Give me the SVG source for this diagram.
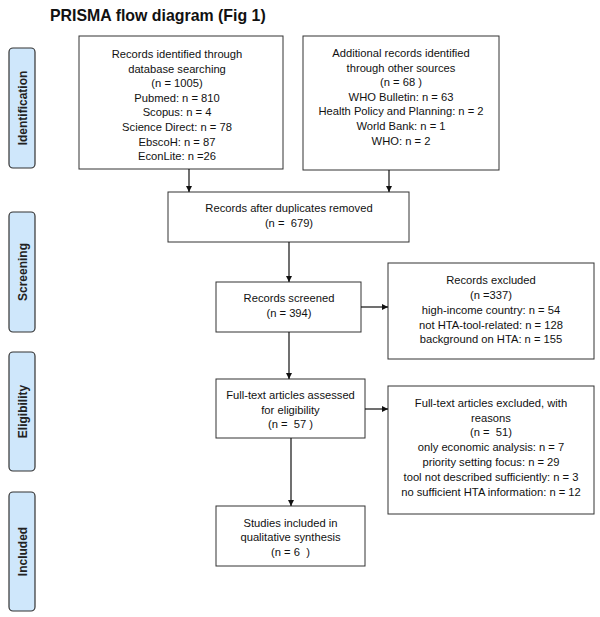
<svg xmlns="http://www.w3.org/2000/svg" width="600" height="617" viewBox="0 0 600 617">
<defs>
<marker id="ah" viewBox="0 0 10 10" refX="10" refY="5" markerWidth="6" markerHeight="6" markerUnits="userSpaceOnUse" orient="auto">
<path d="M0,0 L10,5 L0,10 z" fill="#111"/>
</marker>
</defs>
<style>
.box{fill:#fff;stroke:#333;stroke-width:1}
.stage{fill:#cfe7fb;stroke:#333;stroke-width:1.2}
.t{font-family:"Liberation Sans",Arial,sans-serif;font-size:11.2px;fill:#111;text-anchor:middle;white-space:pre}
.s{font-family:"Liberation Sans",Arial,sans-serif;font-size:12px;font-weight:bold;fill:#222;text-anchor:middle}
.title{font-family:"Liberation Sans",Arial,sans-serif;font-size:15.9px;font-weight:bold;fill:#111}
.c{stroke:#111;stroke-width:1.2;fill:none;marker-end:url(#ah)}
</style>
<rect width="600" height="617" fill="#fff"/>
<text class="title" x="50" y="20.5">PRISMA flow diagram (Fig 1)</text>

<g id="stage-identification"><rect class="stage" x="9" y="48" width="26" height="120" rx="4"/><text class="s" transform="translate(26.5,108) rotate(-90)">Identification</text></g>
<g id="stage-screening"><rect class="stage" x="9" y="212" width="26" height="120" rx="4"/><text class="s" transform="translate(26.5,272) rotate(-90)">Screening</text></g>
<g id="stage-eligibility"><rect class="stage" x="9" y="352" width="26" height="119" rx="4"/><text class="s" transform="translate(26.5,411.5) rotate(-90)">Eligibility</text></g>
<g id="stage-included"><rect class="stage" x="9" y="492" width="26" height="119" rx="4"/><text class="s" transform="translate(26.5,551.5) rotate(-90)">Included</text></g>

<g id="n-database">
<rect class="box" x="79" y="36" width="204" height="133"/>
<text class="t" x="177" y="58">Records identified through</text>
<text class="t" x="177" y="72.6">database searching</text>
<text class="t" x="177" y="87.2">(n = 1005)</text>
<text class="t" x="177" y="101.8">Pubmed: n = 810</text>
<text class="t" x="177" y="116.4">Scopus: n = 4</text>
<text class="t" x="177" y="131">Science Direct: n = 78</text>
<text class="t" x="177" y="145.6">EbscoH: n = 87</text>
<text class="t" x="177" y="160.2">EconLite: n =26</text>
</g>

<g id="n-other">
<rect class="box" x="303" y="36" width="196" height="134"/>
<text class="t" x="401" y="57">Additional records identified</text>
<text class="t" x="401" y="71.6">through other sources</text>
<text class="t" x="401" y="86.2">(n = 68 )</text>
<text class="t" x="401" y="100.8">WHO Bulletin: n = 63</text>
<text class="t" x="401" y="115.4">Health Policy and Planning: n = 2</text>
<text class="t" x="401" y="130">World Bank: n = 1</text>
<text class="t" x="401" y="144.6">WHO: n = 2</text>
</g>

<g id="n-duplicates">
<rect class="box" x="168" y="192" width="241" height="50"/>
<text class="t" x="289" y="212">Records after duplicates removed</text>
<text class="t" x="289" y="227">(n =  679)</text>
</g>

<g id="n-screened">
<rect class="box" x="216" y="282" width="145" height="50"/>
<text class="t" x="289" y="302">Records screened</text>
<text class="t" x="289" y="317">(n = 394)</text>
</g>

<g id="n-excluded">
<rect class="box" x="388" y="263" width="206" height="96"/>
<text class="t" x="491" y="284">Records excluded</text>
<text class="t" x="491" y="299">(n =337)</text>
<text class="t" x="491" y="314">high-income country: n = 54</text>
<text class="t" x="491" y="329">not HTA-tool-related: n = 128</text>
<text class="t" x="491" y="343">background on HTA: n = 155</text>
</g>

<g id="n-fulltext">
<rect class="box" x="216" y="379" width="149" height="59"/>
<text class="t" x="290.5" y="399">Full-text articles assessed</text>
<text class="t" x="290.5" y="414">for eligibility</text>
<text class="t" x="290.5" y="428">(n =  57 )</text>
</g>

<g id="n-ftexcluded">
<rect class="box" x="388" y="386" width="206" height="128"/>
<text class="t" x="491" y="407">Full-text articles excluded, with</text>
<text class="t" x="491" y="422">reasons</text>
<text class="t" x="491" y="436">(n =  51)</text>
<text class="t" x="491" y="451">only economic analysis: n = 7</text>
<text class="t" x="491" y="466">priority setting focus: n = 29</text>
<text class="t" x="491" y="481">tool not described sufficiently: n = 3</text>
<text class="t" x="491" y="496">no sufficient HTA information: n = 12</text>
</g>

<g id="n-included">
<rect class="box" x="216" y="506" width="149" height="60"/>
<text class="t" x="290.5" y="527">Studies included in</text>
<text class="t" x="290.5" y="541">qualitative synthesis</text>
<text class="t" x="290.5" y="556">(n = 6  )</text>
</g>

<g id="connectors">
<line class="c" x1="189" y1="169" x2="189" y2="192"/>
<line class="c" x1="389" y1="170" x2="389" y2="192"/>
<line class="c" x1="289" y1="242" x2="289" y2="282"/>
<line class="c" x1="361" y1="307" x2="388" y2="307"/>
<line class="c" x1="289" y1="332" x2="289" y2="379"/>
<line class="c" x1="365" y1="409" x2="388" y2="409"/>
<line class="c" x1="291" y1="438" x2="291" y2="506"/>
</g>
</svg>
